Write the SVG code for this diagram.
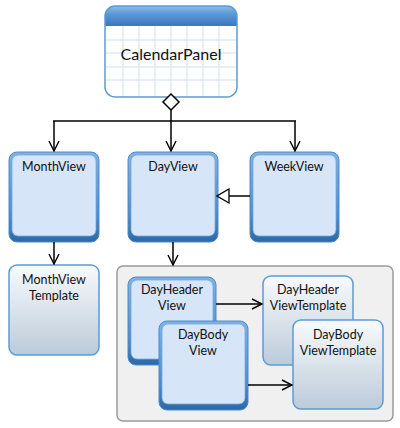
<svg xmlns="http://www.w3.org/2000/svg" width="400" height="428" viewBox="0 0 400 428">
<defs>
<linearGradient id="outerG" x1="0" y1="0" x2="0" y2="1">
<stop offset="0" stop-color="#7fb2e2"/>
<stop offset="0.7" stop-color="#4d8ccc"/>
<stop offset="1" stop-color="#2b68a8"/>
</linearGradient>
<linearGradient id="tplG" x1="0" y1="0" x2="0" y2="1">
<stop offset="0" stop-color="#f8fafd"/>
<stop offset="1" stop-color="#bccbd9"/>
</linearGradient>
<linearGradient id="hdrG" x1="0" y1="0" x2="0" y2="1">
<stop offset="0" stop-color="#8dbde9"/>
<stop offset="0.4" stop-color="#5a98d6"/>
<stop offset="1" stop-color="#3a78bf"/>
</linearGradient>
<clipPath id="calClip"><rect x="105" y="6" width="132" height="91" rx="10"/></clipPath>
<marker id="open" viewBox="0 0 12 12" refX="11" refY="6" markerWidth="12" markerHeight="12" markerUnits="userSpaceOnUse" orient="auto">
<path d="M1,1 L11,6 L1,11" fill="none" stroke="#000" stroke-width="1.4"/>
</marker>
<marker id="tri" viewBox="0 0 14 16" refX="13" refY="8" markerWidth="14" markerHeight="16" markerUnits="userSpaceOnUse" orient="auto">
<path d="M1,1 L13,8 L1,15 Z" fill="#fff" stroke="#000" stroke-width="1.3"/>
</marker>
</defs>
<style>
.t{font-family:Lato,"Liberation Sans",sans-serif;font-size:12.5px;fill:#111;text-anchor:middle;}
.c{fill:none;stroke:#000;stroke-width:1.5;}
.outer{fill:url(#outerG);stroke:#4f8cca;stroke-width:1;}
.inner{fill:#d6e6f8;stroke:#76a8db;stroke-width:0.8;}
.tpl{fill:url(#tplG);stroke:#5b9bd8;stroke-width:1.5;}
</style>

<g id="CalendarPanel">
<rect x="105" y="6" width="132" height="91" rx="10" fill="#fff"/>
<g clip-path="url(#calClip)">
<rect x="105" y="6" width="132" height="20" fill="url(#hdrG)"/>
<g stroke="#cfe0f2" stroke-width="1">
<path d="M123,26V97M139,26V97M155,26V97M171,26V97M187,26V97M203,26V97M219,26V97"/>
<path d="M105,40H237M105,53H237M105,67H237M105,80H237"/>
</g>
</g>
<rect x="105" y="6" width="132" height="91" rx="10" fill="none" stroke="#5b9bd5" stroke-width="1.5"/>
<text class="t" x="171" y="60" style="font-size:16px">CalendarPanel</text>
</g>

<g id="MonthView">
<rect class="outer" x="9" y="152" width="90" height="90" rx="8"/>
<rect class="inner" x="12" y="155" width="84" height="81" rx="6"/>
<text class="t" x="54" y="171">MonthView</text>
</g>

<g id="DayView">
<rect class="outer" x="128" y="152" width="90" height="90" rx="8"/>
<rect class="inner" x="131" y="155" width="84" height="81" rx="6"/>
<text class="t" x="173" y="171">DayView</text>
</g>

<g id="WeekView">
<rect class="outer" x="250" y="152" width="89" height="90" rx="8"/>
<rect class="inner" x="253" y="155" width="83" height="81" rx="6"/>
<text class="t" x="294" y="171">WeekView</text>
</g>

<g id="MonthViewTemplate">
<rect class="tpl" x="9" y="265" width="90" height="90" rx="8"/>
<text class="t" x="54" y="284">MonthView</text>
<text class="t" x="54" y="300">Template</text>
</g>

<g id="DayViewContainer">
<rect x="117" y="266" width="276" height="155" rx="6" fill="#f0f0f0" stroke="#9a9a9a" stroke-width="1.5"/>
</g>

<g id="DayHeaderView">
<rect class="outer" x="128" y="277" width="88" height="88" rx="8"/>
<rect class="inner" x="131" y="280" width="82" height="79" rx="6"/>
<text class="t" x="172" y="294">DayHeader</text>
<text class="t" x="172" y="310">View</text>
</g>

<g id="DayHeaderViewTemplate">
<rect class="tpl" x="263" y="276" width="90" height="89" rx="8"/>
<text class="t" x="308" y="294">DayHeader</text>
<text class="t" x="308" y="310">ViewTemplate</text>
</g>

<g id="DayBodyView">
<rect class="outer" x="159" y="321" width="89" height="89" rx="8"/>
<rect class="inner" x="162" y="324" width="83" height="80" rx="6"/>
<text class="t" x="203" y="339">DayBody</text>
<text class="t" x="203" y="355">View</text>
</g>

<g id="DayBodyViewTemplate">
<rect class="tpl" x="293" y="320" width="90" height="89" rx="8"/>
<text class="t" x="338" y="339">DayBody</text>
<text class="t" x="338" y="355">ViewTemplate</text>
</g>

<g id="connectors">
<path class="c" d="M53,121H296"/>
<path class="c" d="M171,110V151" marker-end="url(#open)"/>
<path class="c" d="M54,121V151" marker-end="url(#open)"/>
<path class="c" d="M295,121V151" marker-end="url(#open)"/>
<path class="c" d="M250,196H217" marker-end="url(#tri)"/>
<path class="c" d="M54,242V264" marker-end="url(#open)"/>
<path class="c" d="M173,242V265" marker-end="url(#open)"/>
<path class="c" d="M216,304H262" marker-end="url(#open)"/>
<path class="c" d="M248,385H292" marker-end="url(#open)"/>
<path d="M171,94L179,102L171,110L163,102Z" fill="#fff" stroke="#000" stroke-width="1.5"/>
</g>
</svg>
